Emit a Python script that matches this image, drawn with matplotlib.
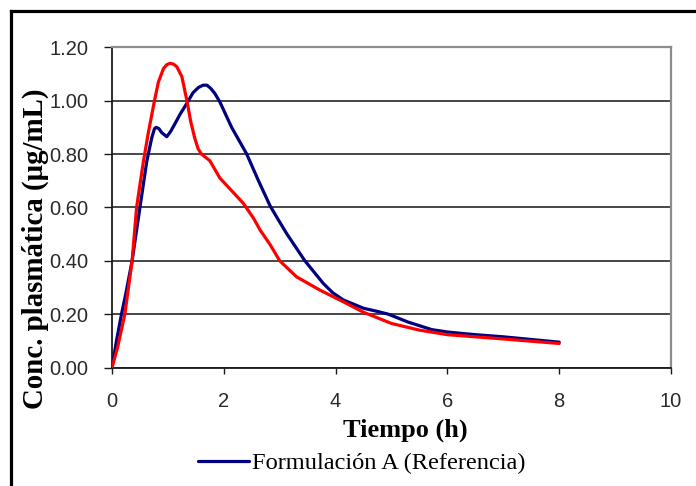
#!/usr/bin/env python3

import matplotlib
matplotlib.use("Agg")
import matplotlib.pyplot as plt
from matplotlib.lines import Line2D
from matplotlib.ticker import FormatStrFormatter

# values (smoothed Excel lines)
tiempo_a = [0, 0.08, 0.17, 0.25, 0.36, 0.5, 0.62, 0.71, 0.76, 0.79, 0.84,
            0.89, 0.98, 1.05, 1.13, 1.22, 1.31, 1.45, 1.55, 1.63, 1.70, 1.77,
            1.84, 1.93, 2.14, 2.41, 2.62, 2.83, 3.0, 3.13, 3.45, 3.78, 3.95,
            4.14, 4.5, 4.75, 4.94, 5.3, 5.72, 6.0, 6.5, 7.0, 7.5, 8.0]
conc_a = [0, 0.10, 0.20, 0.28, 0.40, 0.60, 0.77, 0.86, 0.895, 0.90, 0.895,
          0.88, 0.865, 0.885, 0.915, 0.95, 0.98, 1.03, 1.05, 1.058, 1.058,
          1.045, 1.027, 0.995, 0.90, 0.80, 0.70, 0.605, 0.545, 0.50, 0.40,
          0.315, 0.28, 0.253, 0.222, 0.21, 0.20, 0.17, 0.142, 0.133, 0.123,
          0.115, 0.105, 0.095]

tiempo_b = [0, 0.1, 0.23, 0.36, 0.44, 0.56, 0.65, 0.76, 0.83, 0.92, 0.98,
            1.04, 1.10, 1.16, 1.25, 1.34, 1.41, 1.48, 1.54, 1.60, 1.75, 1.93,
            2.13, 2.35, 2.53, 2.65, 2.83, 3.0, 3.3, 3.72, 4.14, 4.5, 5.0, 5.5,
            6.0, 7.0, 8.0]
conc_b = [0, 0.075, 0.20, 0.40, 0.60, 0.77, 0.88, 1.00, 1.07, 1.12, 1.135,
          1.14, 1.137, 1.127, 1.09, 1.00, 0.92, 0.86, 0.82, 0.80, 0.775, 0.71,
          0.665, 0.615, 0.56, 0.515, 0.46, 0.40, 0.34, 0.29, 0.246, 0.207,
          0.165, 0.14, 0.123, 0.107, 0.09]

label_a = "Formulación A (Referencia)"
xticks = [0, 2, 4, 6, 8, 10]
yticks = [0.0, 0.2, 0.4, 0.6, 0.8, 1.0, 1.2]

W, H = 696, 486


def main():
    fig = plt.figure(figsize=(W / 100, H / 100), dpi=100)
    fig.patch.set_facecolor("white")

    ax = fig.add_axes([112 / W, 1 - 367.5 / H, (671 - 112) / W, (367.5 - 47.3) / H])

    line_a, = ax.plot(tiempo_a, conc_a, color="#000080", lw=2.3,
                      solid_joinstyle="round", solid_capstyle="round", zorder=3)
    ax.plot(tiempo_b, conc_b, color="#ff0000", lw=2.3,
            solid_joinstyle="round", solid_capstyle="round", zorder=4)

    ax.set_xlim(0, 10)
    ax.set_ylim(0, 1.2)
    ax.set_xticks(xticks)
    ax.set_yticks(yticks)
    ax.yaxis.set_major_formatter(FormatStrFormatter("%.2f"))

    ax.set_axisbelow(True)
    ax.yaxis.grid(True, color="#383838", lw=1.3)

    for side in ["top", "right"]:
        ax.spines[side].set_color("#8c8c8c")
        ax.spines[side].set_linewidth(1.6)
    for side in ["left", "bottom"]:
        ax.spines[side].set_color("#1a1a1a")
        ax.spines[side].set_linewidth(1.3)

    ax.tick_params(axis="y", direction="out", length=5.8, width=1, pad=11,
                   colors="#1a1a1a", labelcolor="#2a2a2a")
    ax.tick_params(axis="x", direction="out", length=4.5, width=1, pad=13,
                   colors="#1a1a1a", labelcolor="#2a2a2a")
    for lab in ax.get_xticklabels() + ax.get_yticklabels():
        lab.set_fontfamily("Liberation Sans")
        lab.set_fontsize(14.5)

    fig.text(35 / W, 1 - 249 / H, "Conc. plasmática (µg/mL)",
             rotation=90, ha="center", va="center",
             family="Liberation Serif", weight="bold", fontsize=20.8)
    fig.text(405 / W, 1 - 430 / H, "Tiempo (h)",
             ha="center", va="center",
             family="Liberation Serif", weight="bold", fontsize=19)

    fig.legend(handles=[line_a], labels=[label_a], loc="center left",
               bbox_to_anchor=(198 / W, 1 - 463 / H), frameon=False,
               borderpad=0, borderaxespad=0, handlelength=2.1,
               handletextpad=0.1,
               prop={"family": "Liberation Serif", "size": 17.6})

    # outer chart frame (only left and top edges visible)
    fig.add_artist(Line2D([11 / W, 11 / W], [0, 1 - 11 / H],
                          transform=fig.transFigure, color="black", lw=2.3))
    fig.add_artist(Line2D([11 / W, 1], [1 - 11 / H, 1 - 11 / H],
                          transform=fig.transFigure, color="black", lw=2.3))

    fig.savefig("out.png", dpi=100)


if __name__ == "__main__":
    main()
